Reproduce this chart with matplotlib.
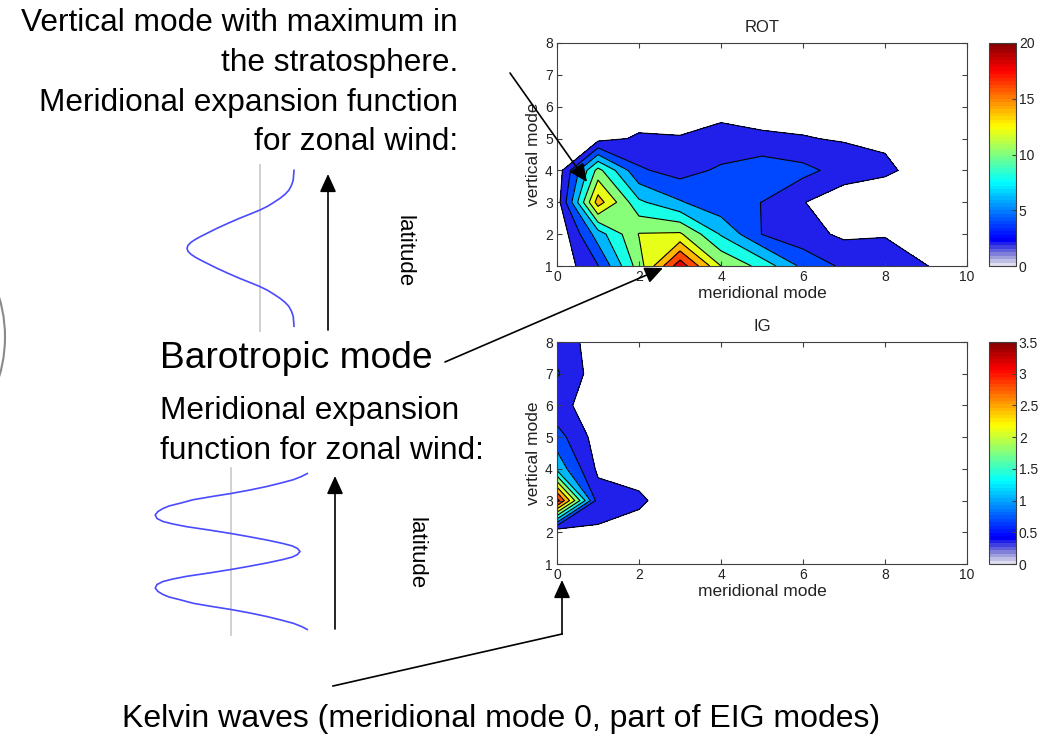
import numpy as np
import matplotlib.pyplot as plt
import matplotlib.cm as cm
from matplotlib.colors import ListedColormap, Normalize
from matplotlib.patches import Circle
from matplotlib.ticker import FuncFormatter

plt.rcParams['font.family'] = ['Liberation Sans', 'DejaVu Sans']

# grid of modes
merid = np.arange(0, 11)
vert = np.arange(1, 9)

# ROT energy, rows = vertical mode 1..8, cols = meridional mode 0..10
rot = np.array([
    [0.38, 3.9, 11.0, 19.3, 12.0, 9.3, 5.5, 3.6, 2.6, 2.05, 1.2],
    [0.15, 7.0, 12.1, 12.3, 7.8, 3.95, 2.68, 1.65, 1.93, 1.0, 0.5],
    [0.91, 15.0, 8.4, 6.2, 4.5, 3.98, 2.1, 0.57, 0.8, 0.5, 0.3],
    [0.7, 10.7, 4.3, 3.2, 4.35, 5.39, 4.6, 3.17, 2.3, 1.36, 0.3],
    [0.3, 1.24, 2.3, 2.15, 2.5, 2.3, 2.1, 1.84, 1.74, 0.8, 0.3],
    [0.3, 0.5, 0.63, 0.65, 1.5, 1.15, 1.2, 1.0, 0.8, 0.5, 0.3],
    [0.2, 0.3, 0.3, 0.4, 0.6, 0.5, 0.5, 0.4, 0.3, 0.2, 0.2],
    [0.1, 0.2, 0.2, 0.2, 0.3, 0.3, 0.2, 0.2, 0.2, 0.1, 0.1],
])

# IG energy
ig = np.array([
    [0.0, 0.0, 0.0, 0.0, 0.0, 0.0, 0.0, 0.0, 0.0, 0.0, 0.0],
    [0.02, 0.29, 0.17, 0.0, 0.0, 0.0, 0.0, 0.0, 0.0, 0.0, 0.0],
    [3.3, 0.53, 0.42, 0.1, 0.0, 0.0, 0.0, 0.0, 0.0, 0.0, 0.0],
    [1.3, 0.28, 0.19, 0.0, 0.0, 0.0, 0.0, 0.0, 0.0, 0.0, 0.0],
    [0.85, 0.19, 0.0, 0.0, 0.0, 0.0, 0.0, 0.0, 0.0, 0.0, 0.0],
    [0.45, 0.19, 0.0, 0.0, 0.0, 0.0, 0.0, 0.0, 0.0, 0.0, 0.0],
    [0.74, 0.14, 0.0, 0.0, 0.0, 0.0, 0.0, 0.0, 0.0, 0.0, 0.0],
    [0.55, 0.19, 0.0, 0.0, 0.0, 0.0, 0.0, 0.0, 0.0, 0.0, 0.0],
])

rot_ticks = [0, 5, 10, 15, 20]
ig_ticks = [0, 0.5, 1, 1.5, 2, 2.5, 3, 3.5]

# sketch of meridional expansion functions (latitude offset, amplitude)
lat1 = [-78, -68, -63, -58, -54, -50, -46, -42, -38.3, -35, -30, -25, -20, -16,
        -12, -9, -6, -3, 0, 3, 6, 9, 12, 16, 20, 25, 30, 35, 38.3, 42, 46, 50,
        54, 58, 63, 68, 78]
amp1 = [34, 33.2, 31.5, 28.8, 25, 20, 14, 7.5, 0, -8, -20.5, -32, -43, -51,
        -59, -64.5, -69, -72, -73, -72, -69, -64.5, -59, -51, -43, -32, -20.5,
        -8, 0, 7.5, 14, 20, 25, 28.8, 31.5, 33.2, 34]

lat2 = [-78, -75, -71.8, -68.5, -65, -61.5, -58, -55, -51.8, -48.5, -45.5, -43,
        -40, -36.6, -33, -30, -27.5, -24.8, -21.5, -18, -15, -11.5, -8, -5.5, -3,
        0, 3, 5.5, 8, 11.5, 15, 18, 21.5, 24.8, 27.5, 30, 33, 36.6, 40, 43, 45.5,
        48.5, 51.8, 55, 58, 61.5, 65, 68.5, 71.8, 75, 78]
amp2 = [76.3, 70.5, 62.3, 50, 35.7, 19, 0, -19, -37.7, -50, -62, -68, -73,
        -75.8, -74, -68, -58, -44.3, -22, 0, 17, 35.7, 52, 61.5, 66.5, 69, 66.5,
        61.5, 52, 35.7, 17, 0, -22, -44.3, -58, -68, -74, -75.8, -73, -68, -62,
        -50, -37.7, -19, 0, 19, 35.7, 50, 62.3, 70.5, 76.3]

W, H = 1041, 736
fig = plt.figure(figsize=(W / 100, H / 100), dpi=100)


def px_axes(x0, y0, x1, y1):
    return fig.add_axes([x0 / W, 1 - y1 / H, (x1 - x0) / W, (y1 - y0) / H])


# jet with a white fade at the bottom, like the matlab colormap
xs = (np.arange(64) + 0.5) / 64
base = np.stack([np.clip(1.5 - np.abs(4 * xs - k), 0, 1) for k in (3, 2, 1)], axis=1)
w = np.minimum((np.arange(64) + 1) / 8, 1)[:, None]
cmap = ListedColormap(w * base + (1 - w))

fmt = FuncFormatter(lambda v, p: '%g' % v)
edge = '#404040'


def panel(ax, cax, z, vmax, title, cticks):
    levels = np.linspace(vmax / 10, vmax, 10)
    norm = Normalize(0, vmax)
    fills = [cmap(norm(l)) for l in levels[:-1]]
    ax.contourf(merid, vert, z, levels=levels, colors=fills)
    ax.contour(merid, vert, z, levels=levels, colors='k', linewidths=0.8)
    ax.set_xlim(0, 10)
    ax.set_ylim(1, 8)
    ax.set_xticks(range(0, 11, 2))
    ax.set_yticks(range(1, 9))
    ax.tick_params(direction='in', top=True, right=True, length=3.5,
                   labelsize=10, pad=3, color=edge, labelcolor='#222222')
    for s in ax.spines.values():
        s.set_edgecolor(edge)
        s.set_linewidth(0.8)
    ax.set_xlabel('meridional mode', fontsize=12.5, labelpad=1, color='#222222')
    ax.set_ylabel('vertical mode', fontsize=12.5, labelpad=3, color='#222222')
    ax.set_title(title, fontsize=12, pad=8, color='#222222')

    cb = fig.colorbar(cm.ScalarMappable(norm=norm, cmap=cmap), cax=cax, ticks=cticks)
    cb.outline.set_edgecolor(edge)
    cb.outline.set_linewidth(0.8)
    cax.yaxis.set_major_formatter(fmt)
    cax.tick_params(direction='in', length=3, labelsize=10, pad=2,
                    color=edge, labelcolor='#222222')


ax_rot = px_axes(557, 43, 967, 266)
cax_rot = px_axes(989, 43, 1016, 266)
ax_ig = px_axes(557, 342, 967, 564)
cax_ig = px_axes(989, 342, 1016, 564)

panel(ax_rot, cax_rot, rot, 20, 'ROT', rot_ticks)
panel(ax_ig, cax_ig, ig, 3.5, 'IG', ig_ticks)

# slide annotations in pixel coordinates
ov = fig.add_axes([0, 0, 1, 1], facecolor='none')
ov.set_xlim(0, W)
ov.set_ylim(H, 0)
ov.axis('off')

txt = dict(fontsize=22.8, va='baseline', color='k')
ov.text(458, 31, 'Vertical mode with maximum in', ha='right', **txt)
ov.text(458, 71, 'the stratosphere.', ha='right', **txt)
ov.text(458, 111, 'Meridional expansion function', ha='right', **txt)
ov.text(458, 150, 'for zonal wind:', ha='right', **txt)

ov.text(160, 368, 'Barotropic mode', ha='left', fontsize=26.7, va='baseline')
ov.text(160, 419, 'Meridional expansion', ha='left', **txt)
ov.text(160, 459, 'function for zonal wind:', ha='left', **txt)
ov.text(501, 727, 'Kelvin waves (meridional mode 0, part of EIG modes)',
        ha='center', fontsize=23, va='baseline')

ov.text(404, 251, 'latitude', rotation=-90, ha='center', va='center', fontsize=16)
ov.text(416, 553, 'latitude', rotation=-90, ha='center', va='center', fontsize=16)

# expansion function sketches
ov.plot([260, 260], [165, 331], color='#c8c8c8', lw=1.2)
ov.plot(260 + np.array(amp1), 248.3 + np.array(lat1), color='#4a4aff', lw=1.2)
ov.plot([231, 231], [468, 635], color='#c8c8c8', lw=1.2)
ov.plot(231 + np.array(amp2), 551.5 + np.array(lat2), color='#4a4aff', lw=1.2)

ov.add_patch(Circle((-134, 337), 139, fill=False, ec='#8a8a8a', lw=1.5))

ap = dict(arrowstyle='-|>,head_length=0.55,head_width=0.25', color='k', lw=1.2,
          shrinkA=0, shrinkB=0, mutation_scale=20)
ov.annotate('', xy=(328, 174), xytext=(328, 330), arrowprops=ap)
ov.annotate('', xy=(335, 476), xytext=(335, 629), arrowprops=ap)
ov.annotate('', xy=(587, 182), xytext=(510, 73), arrowprops=ap)
ov.annotate('', xy=(663, 268), xytext=(445, 362), arrowprops=ap)
ov.plot([333, 562], [686, 634], color='k', lw=1.2)
ov.annotate('', xy=(562, 580), xytext=(562, 634), arrowprops=ap)

fig.savefig('out.png', dpi=100)
